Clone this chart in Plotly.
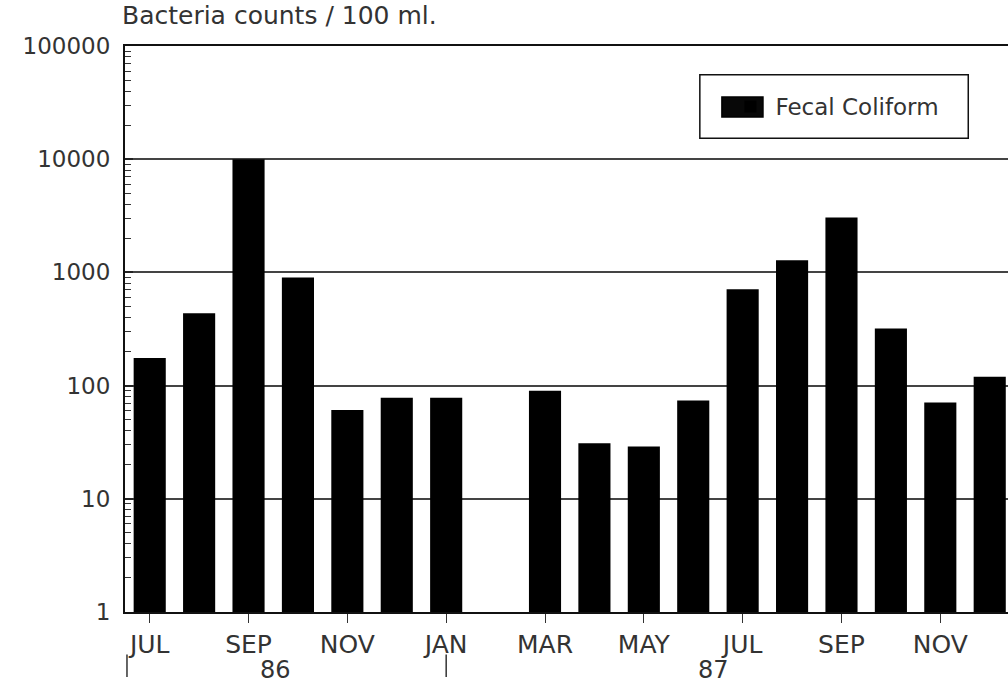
import plotly.graph_objects as go

# --- data ---
months = ["JUL", "AUG", "SEP", "OCT", "NOV", "DEC", "JAN", "FEB", "MAR",
          "APR", "MAY", "JUN", "JUL", "AUG", "SEP", "OCT", "NOV", "DEC"]
fecal_coliform = [175, 435, 10000, 900, 61, 78, 78, None, 90,
                  31, 29, 74, 710, 1280, 3050, 320, 71, 120]
x_tick_idx = [0, 2, 4, 6, 8, 10, 12, 14, 16]
y_tick_vals = [1, 10, 100, 1000, 10000, 100000]
y_tick_text = ["1", "10", "100", "1000", "10000", "100000"]
years = ["86", "87"]
year_pos = [2.55, 11.4]
year_marks = [-0.46, 6]

x_idx = list(range(len(months)))
FONT = "DejaVu Sans"
TXT = "#333333"

fig = go.Figure()
fig.add_trace(go.Bar(
    x=x_idx, y=fecal_coliform, name="Fecal Coliform",
    marker=dict(color="#000000", line=dict(width=0)),
    width=0.65,
))

fig.update_layout(
    width=1008, height=683,
    margin=dict(l=125, r=0, t=46, b=71),
    plot_bgcolor="white", paper_bgcolor="white",
    font=dict(family=FONT, color=TXT),
    showlegend=True,
    legend=dict(
        x=0.68, y=0.893, xanchor="left", yanchor="middle",
        bgcolor="rgba(0,0,0,0)", borderwidth=0,
        font=dict(size=23, color=TXT, family=FONT),
        itemwidth=40,
    ),
)

fig.update_xaxes(
    range=[-0.5, 17.37],
    tickmode="array", tickvals=x_tick_idx,
    ticktext=[months[i] for i in x_tick_idx],
    ticks="outside", ticklen=9, tickwidth=1, tickcolor="#333333",
    showline=True, linecolor="#111111", linewidth=2, mirror=True,
    showgrid=False, zeroline=False,
    tickfont=dict(size=25, color=TXT, family=FONT),
)

fig.update_yaxes(
    type="log", range=[0, 5],
    tickmode="array", tickvals=y_tick_vals, ticktext=y_tick_text,
    ticks="inside", ticklen=8, tickwidth=1.5, tickcolor="#222222",
    ticklabelstandoff=8,
    showline=True, linecolor="#111111", linewidth=2,
    showgrid=True, gridcolor="#444444", gridwidth=1.5,
    zeroline=False,
    tickfont=dict(size=23, color=TXT, family=FONT),
    minor=dict(ticks="inside", ticklen=6, tickwidth=1, tickcolor="#333333",
               dtick="D1", showgrid=False),
)

# legend frame and swatch
fig.add_shape(type="rect", xref="paper", yref="paper",
              x0=0.651, x1=0.955, y0=0.837, y1=0.949,
              line=dict(color="#111111", width=1.5), fillcolor="white",
              layer="above")
fig.add_shape(type="rect", xref="paper", yref="paper",
              x0=0.676, x1=0.7225, y0=0.8746, y1=0.910,
              line=dict(color="#000000", width=1.5), fillcolor="#080808",
              layer="above")

# title
fig.add_annotation(
    text="Bacteria counts / 100 ml.", xref="paper", yref="paper",
    x=-0.006, y=1.054, xanchor="left", yanchor="middle",
    showarrow=False, font=dict(size=25, color=TXT, family=FONT),
)

# year labels
for yr, p in zip(years, year_pos):
    fig.add_annotation(
        text=yr, xref="x", yref="paper", x=p, y=-0.103,
        xanchor="center", yanchor="middle", showarrow=False,
        font=dict(size=24, color=TXT, family=FONT),
    )
for p in year_marks:
    fig.add_shape(type="line", xref="x", yref="paper", x0=p, x1=p,
                  y0=-0.075, y1=-0.115, line=dict(color="#333333", width=1.5))

fig.write_html("out.html")
